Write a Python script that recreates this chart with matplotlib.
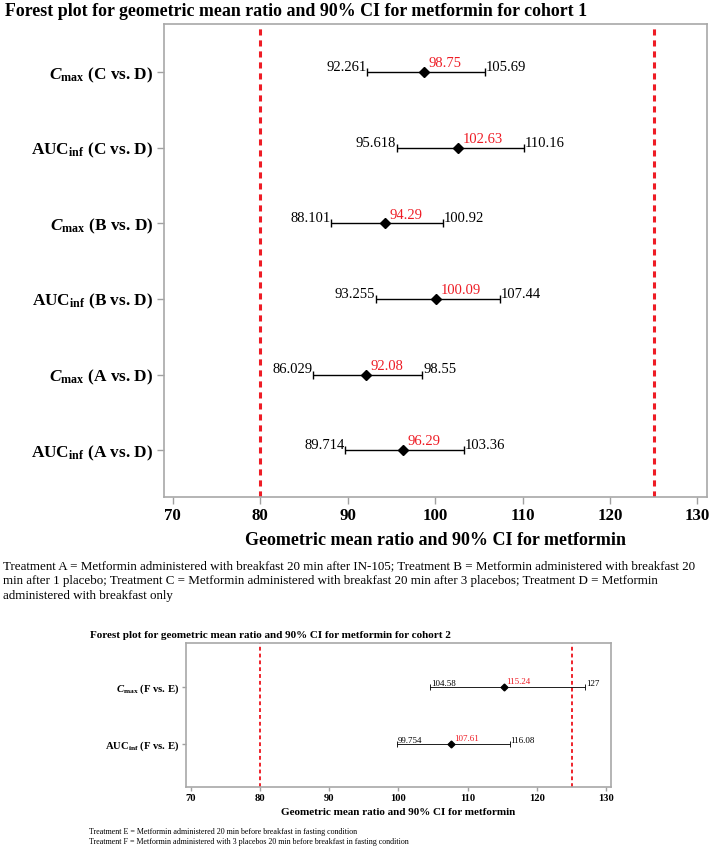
import matplotlib
matplotlib.use('Agg')
import matplotlib.pyplot as plt
import numpy as np

plt.rcParams['font.family'] = 'Liberation Serif'
plt.rcParams['mathtext.fontset'] = 'custom'
plt.rcParams['mathtext.rm'] = 'Liberation Serif'
plt.rcParams['mathtext.bf'] = 'Liberation Serif:bold'
plt.rcParams['mathtext.it'] = 'Liberation Serif:italic'
plt.rcParams['mathtext.bfit'] = 'Liberation Serif:italic:bold'

# Cohort 1 data (top to bottom)
labels_c1 = [r'$\mathbfit{C}_{\mathbf{max}}$ (C vs. D)',
             r'$\mathbf{AUC}_{\mathbf{inf}}$ (C vs. D)',
             r'$\mathbfit{C}_{\mathbf{max}}$ (B vs. D)',
             r'$\mathbf{AUC}_{\mathbf{inf}}$ (B vs. D)',
             r'$\mathbfit{C}_{\mathbf{max}}$ (A vs. D)',
             r'$\mathbf{AUC}_{\mathbf{inf}}$ (A vs. D)']
lower_c1 = [92.261, 95.618, 88.101, 93.255, 86.029, 89.714]
gmr_c1 = [98.75, 102.63, 94.29, 100.09, 92.08, 96.29]
upper_c1 = [105.69, 110.16, 100.92, 107.44, 98.55, 103.36]

# Cohort 2 data (top to bottom)
labels_c2 = [r'$\mathbfit{C}_{\mathbf{max}}$ (F vs. E)',
             r'$\mathbf{AUC}_{\mathbf{inf}}$ (F vs. E)']
lower_c2 = [104.58, 99.754]
gmr_c2 = [115.24, 107.61]
upper_c2 = [127, 116.08]

limits = [80, 125]
xticks = [70, 80, 90, 100, 110, 120, 130]

title_c1 = 'Forest plot for geometric mean ratio and 90% CI for metformin for cohort 1'
title_c2 = 'Forest plot for geometric mean ratio and 90% CI for metformin for cohort 2'
xlabel = 'Geometric mean ratio and 90% CI for metformin'
note_c1 = ('Treatment A = Metformin administered with breakfast 20 min after IN-105; Treatment B = Metformin administered with breakfast 20\n'
           'min after 1 placebo; Treatment C = Metformin administered with breakfast 20 min after 3 placebos; Treatment D = Metformin\n'
           'administered with breakfast only')
note_c2 = ('Treatment E = Metformin administered 20 min before breakfast in fasting condition\n'
           'Treatment F = Metformin administered with 3 placebos 20 min before breakfast in fasting condition')

W, H = 709, 846
fig = plt.figure(figsize=(W / 100, H / 100), dpi=100)


def px_axes(left, top, right, bottom):
    return fig.add_axes([left / W, 1 - bottom / H, (right - left) / W, (bottom - top) / H])


def forest(ax, labels, lower, gmr, upper, ylim, xlim, s, lower_right):
    n = len(labels)
    y = np.arange(n, 0, -1)
    lower = np.array(lower)
    gmr = np.array(gmr)
    upper = np.array(upper)
    for xv in limits:
        ax.axvline(xv, color='#ee1c25', ls=(0, (2, 1.6)), lw=2.2 * s, zorder=1)
    ax.errorbar(gmr, y, xerr=[gmr - lower, upper - gmr], fmt='D', color='black',
                ms=5.6 * s, lw=1.0 * s, capsize=3.2 * s, capthick=1.0 * s, zorder=3)
    fs = 10.5 * s
    for yi, lo, m, up in zip(y, lower, gmr, upper):
        if lower_right:
            ax.annotate('%g' % lo, (lo, yi), xytext=(-0.5, 1), textcoords='offset points',
                        ha='right', va='baseline', fontsize=fs)
        else:
            ax.annotate('%g' % lo, (lo, yi), xytext=(0.5, 1), textcoords='offset points',
                        ha='left', va='baseline', fontsize=fs)
        ax.annotate('%g' % m, (m, yi), xytext=(3.2 * s, 3.5 * s), textcoords='offset points',
                    ha='left', va='baseline', fontsize=fs, color='#ee1c25')
        ax.annotate('%g' % up, (up, yi), xytext=(0.5, 1), textcoords='offset points',
                    ha='left', va='baseline', fontsize=fs)
    ax.set_xlim(xlim)
    ax.set_ylim(ylim)
    ax.set_yticks(y)
    ax.set_yticklabels(labels, fontsize=12.4 * s, fontweight='bold')
    ax.set_xticks(xticks)
    ax.set_xticklabels([str(t) for t in xticks], fontsize=12.2 * s, fontweight='bold')
    ax.tick_params(color='#a0a0a0', length=5 * s, width=1, pad=3 * s)
    for sp in ax.spines.values():
        sp.set_color('#a8a8a8')
        sp.set_linewidth(1.2)


# Cohort 1
ax1 = px_axes(164, 24, 707, 497)
forest(ax1, labels_c1, lower_c1, gmr_c1, upper_c1, (0.38, 6.64), (69.0, 131.1), 1.0, True)
ax1.set_xlabel(xlabel, fontsize=13, fontweight='bold', labelpad=6)
fig.text(5 / W, 1 - 12 / H, title_c1, fontsize=12.9, fontweight='bold', va='center', ha='left')
fig.text(3 / W, 1 - 560 / H, note_c1, fontsize=9.35, va='top', ha='left', linespacing=1.33)

# Cohort 2
ax2 = px_axes(186, 643, 611, 787)
forest(ax2, labels_c2, lower_c2, gmr_c2, upper_c2, (0.25, 2.77), (69.35, 130.7), 0.62, False)
ax2.set_xlabel(xlabel, fontsize=8, fontweight='bold', labelpad=4)
fig.text(90 / W, 1 - 635 / H, title_c2, fontsize=8.0, fontweight='bold', va='center', ha='left')
fig.text(89 / W, 1 - 828 / H, note_c2, fontsize=5.8, va='top', ha='left', linespacing=1.3)

fig.savefig('out.png', dpi=100)
